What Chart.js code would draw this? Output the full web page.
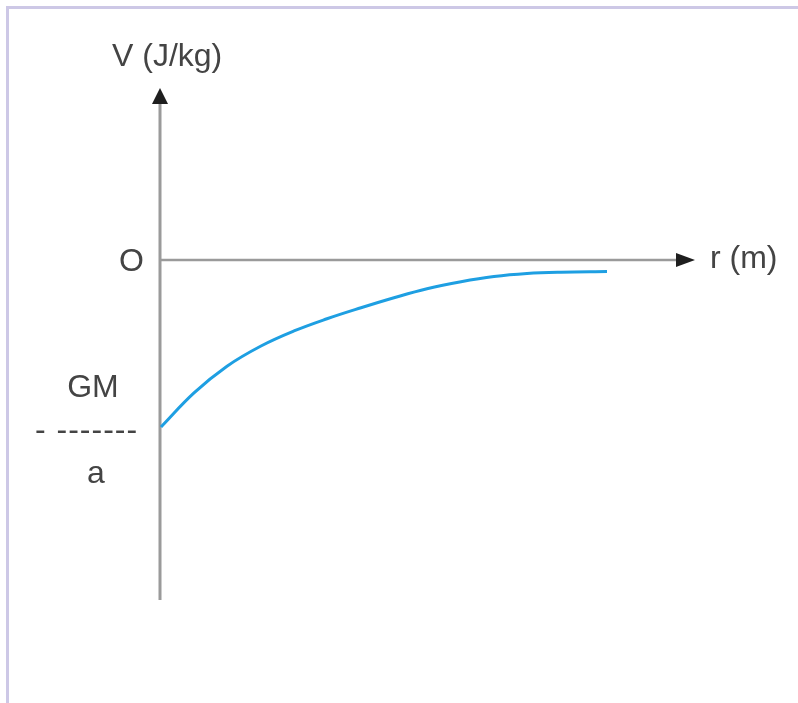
<!DOCTYPE html>
<html>
<head>
<meta charset="utf-8">
<script src="https://cdn.jsdelivr.net/npm/chart.js@4/dist/chart.umd.min.js"></script>
<style>
  html, body { margin: 0; padding: 0; background: #ffffff; }
  #wrap { position: relative; width: 798px; height: 703px; }
  #frame { position: absolute; left: 6px; top: 6px; right: 0; bottom: 0;
           border-top: 3px solid #cdc8e6; border-left: 3px solid #cdc8e6; }
  canvas { position: absolute; left: 0; top: 0; }
</style>
</head>
<body>
<div id="wrap"><div id="frame"></div><canvas id="c"></canvas></div>
<script>
// radial distance r (arbitrary units) and potential V (in units of GM/a)
const rValues = [0.1, 3.4, 6.7, 10.1, 13.4, 16.7, 20.1, 23.4, 26.7, 30.1, 33.4, 36.7, 40.1, 44.7];
const vValues = [-1.0, -0.796, -0.636, -0.515, -0.425, -0.352, -0.286, -0.226, -0.172, -0.130, -0.099, -0.081, -0.073, -0.069];

// axis extents (data units)
const xAxisRange = [0, 51.6, 53.5];   // start, end of shaft, arrow tip
const yAxisRange = [-2.036, 0.94, 1.03]; // bottom, end of shaft, arrow tip

const axisLabels = { y: 'V (J/kg)', x: 'r (m)', origin: 'O' };
const fractionLabel = { num: 'GM', bar: '- -------', den: 'a' };

const FONT = '32px "Liberation Sans", Arial, sans-serif';
const TXT = '#444444';

const axesPlugin = {
  id: 'axesPlugin',
  beforeDatasetsDraw(chart) {
    const ctx = chart.ctx, xs = chart.scales.x, ys = chart.scales.y;
    const x0 = xs.getPixelForValue(0), y0 = ys.getPixelForValue(0);
    ctx.save();
    ctx.strokeStyle = '#9a9a9a';
    // vertical axis
    ctx.lineWidth = 3;
    ctx.beginPath();
    ctx.moveTo(x0, ys.getPixelForValue(yAxisRange[0]));
    ctx.lineTo(x0, ys.getPixelForValue(yAxisRange[1]));
    ctx.stroke();
    // horizontal axis
    ctx.lineWidth = 2.5;
    ctx.beginPath();
    ctx.moveTo(x0, y0);
    ctx.lineTo(xs.getPixelForValue(xAxisRange[1]), y0);
    ctx.stroke();
    // arrows
    ctx.fillStyle = '#1e1e1e';
    const yt = ys.getPixelForValue(yAxisRange[2]);
    ctx.beginPath();
    ctx.moveTo(x0, yt);
    ctx.lineTo(x0 - 8, yt + 16);
    ctx.lineTo(x0 + 8, yt + 16);
    ctx.closePath();
    ctx.fill();
    const xt = xs.getPixelForValue(xAxisRange[2]);
    ctx.beginPath();
    ctx.moveTo(xt, y0);
    ctx.lineTo(xt - 19, y0 - 7);
    ctx.lineTo(xt - 19, y0 + 7);
    ctx.closePath();
    ctx.fill();
    // labels
    ctx.fillStyle = TXT;
    ctx.font = FONT;
    ctx.textBaseline = 'alphabetic';
    ctx.textAlign = 'left';
    ctx.fillText(axisLabels.y, 112, 66);
    ctx.fillText(axisLabels.x, 710, 268);
    ctx.textAlign = 'right';
    ctx.fillText(axisLabels.origin, 144, 271);
    // fraction -GM/a at V = -1
    const yf = ys.getPixelForValue(-1);
    ctx.textAlign = 'center';
    ctx.fillText(fractionLabel.num, 93, yf - 30);
    ctx.textAlign = 'left';
    if ('letterSpacing' in ctx) ctx.letterSpacing = '1px';
    ctx.fillText(fractionLabel.bar, 35, yf + 13);
    if ('letterSpacing' in ctx) ctx.letterSpacing = '0px';
    ctx.textAlign = 'center';
    ctx.fillText(fractionLabel.den, 96, yf + 56);
    ctx.restore();
  }
};

new Chart(document.getElementById('c'), {
  type: 'scatter',
  data: {
    datasets: [{
      data: rValues.map((r, i) => ({ x: r, y: vValues[i] })),
      showLine: true,
      borderColor: '#1e9fe2',
      borderWidth: 3,
      pointRadius: 0,
      tension: 0.4,
      fill: false
    }]
  },
  options: {
    responsive: true,
    maintainAspectRatio: false,
    animation: false,
    layout: { padding: 0 },
    plugins: { legend: { display: false }, tooltip: { enabled: false } },
    scales: {
      x: { type: 'linear', display: false, min: -16.0, max: 63.8 },
      y: { type: 'linear', display: false, min: -2.653, max: 1.557 }
    }
  },
  plugins: [axesPlugin]
});
</script>
</body>
</html>
